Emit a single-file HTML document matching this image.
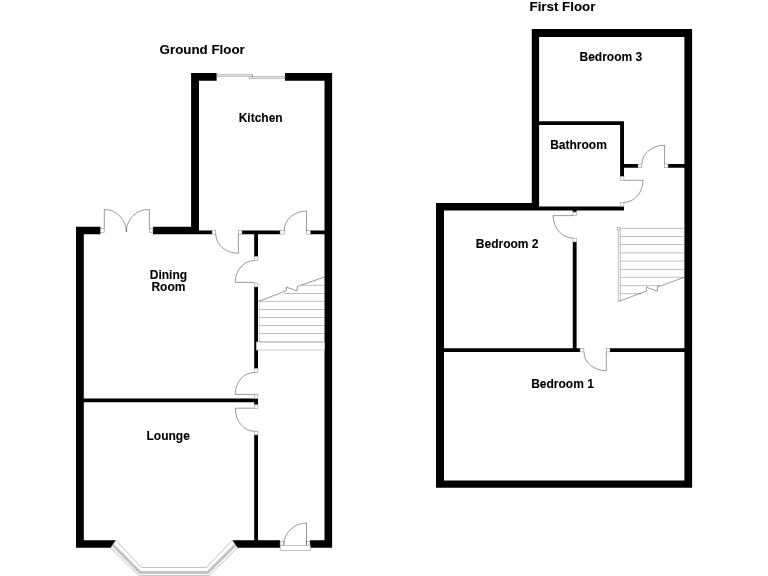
<!DOCTYPE html>
<html lang="en">
<head>
<meta charset="utf-8">
<title>Floor Plan</title>
<style>
html,body{margin:0;padding:0;background:#fff;}
body{width:768px;height:576px;overflow:hidden;}
svg{display:block;will-change:transform;}
text{font-family:"Liberation Sans",Arial,Helvetica,sans-serif;font-weight:bold;fill:#000;stroke:#000;stroke-width:0.1px;}
</style>
</head>
<body>
<svg width="768" height="576" viewBox="0 0 768 576">
<rect x="0" y="0" width="768" height="576" fill="#fff"/>
<path fill="#000" fill-rule="nonzero" d="M191.1,72.9H199V234.2H191.1Z M191.1,72.9H216.6V80.7H191.1Z M285,72.9H332.1V80.7H285Z M324.5,72.9H332.1V547.8H324.5Z M76,226.7H100.5V234.2H76Z M153,226.7H199V234.2H153Z M76,226.7H83.8V547.8H76Z M76,540.3L115.9,540.3L110.9,547.8L76,547.8Z M232.25,540.3L280,540.3L280,547.8L237.25,547.8Z M310,540.3H332.1V547.8H310Z M199,230.5H212V234.2H199Z M242,230.5H280V234.2H242Z M310.25,230.5H324.5V234.2H310.25Z M254.2,234H258V256.6H254.2Z M254.2,287H258V368.5H254.2Z M254.2,398.5H258V404.75H254.2Z M254.2,435H258V540.5H254.2Z M83.8,398.5H258V402.3H83.8Z M531.8,29.1H692.1V37H531.8Z M531.8,29.1H539.1V210.5H531.8Z M684.4,29.1H692.1V487.8H684.4Z M436,203H539.1V210.5H436Z M436,203H444V487.8H436Z M436,480.5H692.1V487.8H436Z M539.1,121.3H624V125H539.1Z M620.1,121.3H624V176.5H620.1Z M624,164H638V167.8H624Z M668,164H684.4V167.8H668Z M539.1,206.6H624V210.5H539.1Z M572.8,210.3H576.6V212H572.8Z M572.8,242H576.6V352H572.8Z M444,348.3H580V352H444Z M610,348.3H684.4V352H610Z"/>
<rect x="217.6" y="74.4" width="35" height="2.3" fill="#e4e4e4" stroke="#a8a8a8" stroke-width="0.6"/>
<rect x="249" y="76.3" width="35.8" height="2.3" fill="#e4e4e4" stroke="#a8a8a8" stroke-width="0.6"/>
<rect x="252.2" y="75.6" width="0.8" height="1.2" fill="#555"/>
<rect x="100.6" y="228.4" width="3.6" height="4" fill="#fff" stroke="#999" stroke-width="0.6"/>
<rect x="149.3" y="228.4" width="3.6" height="4" fill="#fff" stroke="#999" stroke-width="0.6"/>
<path d="M104.3,228.5 L104.3,209.5 A22,22.5 0 0 1 126.3,232 A22,22.5 0 0 1 149.4,209.5 L149.4,228.5" stroke="#000" stroke-width="0.4" fill="none"/>
<rect x="212.1" y="230.5" width="3.6" height="3.7" fill="#fff" stroke="#999" stroke-width="0.6"/>
<rect x="238.4" y="230.5" width="3.5" height="3.7" fill="#fff" stroke="#999" stroke-width="0.6"/>
<path d="M238.4,234.2 L238.4,253.3 A22.6,19.1 0 0 1 215.8,234.2" stroke="#000" stroke-width="0.4" fill="none"/>
<rect x="280.1" y="230.5" width="4.1" height="3.7" fill="#fff" stroke="#999" stroke-width="0.6"/>
<rect x="306.6" y="230.5" width="3.6" height="3.7" fill="#fff" stroke="#999" stroke-width="0.6"/>
<path d="M306.5,230.5 L306.5,211 A22.3,19.5 0 0 0 284.2,230.5" stroke="#000" stroke-width="0.4" fill="none"/>
<rect x="254.3" y="256.7" width="3.6" height="3.8" fill="#fff" stroke="#999" stroke-width="0.6"/>
<rect x="254.3" y="283.1" width="3.6" height="3.8" fill="#fff" stroke="#999" stroke-width="0.6"/>
<path d="M254.2,282.4 L235.2,282.4 A19,21.8 0 0 1 254.2,260.6" stroke="#000" stroke-width="0.4" fill="none"/>
<rect x="254.3" y="368.6" width="3.6" height="3.8" fill="#fff" stroke="#999" stroke-width="0.6"/>
<rect x="254.3" y="394.5" width="3.6" height="3.9" fill="#fff" stroke="#999" stroke-width="0.6"/>
<path d="M254.2,394.4 L235.2,394.4 A19,21.9 0 0 1 254.2,372.5" stroke="#000" stroke-width="0.4" fill="none"/>
<rect x="254.3" y="404.85" width="3.6" height="3.65" fill="#fff" stroke="#999" stroke-width="0.6"/>
<rect x="254.3" y="431.3" width="3.6" height="3.6" fill="#fff" stroke="#999" stroke-width="0.6"/>
<path d="M254.2,408.2 L235.2,408.2 A19,23 0 0 0 254.2,431.2" stroke="#000" stroke-width="0.4" fill="none"/>
<rect x="280.1" y="541.6" width="3.8" height="3.6" fill="#fff" stroke="#999" stroke-width="0.6"/>
<rect x="306.4" y="541.6" width="3.5" height="3.6" fill="#fff" stroke="#999" stroke-width="0.6"/>
<rect x="280.2" y="545.3" width="30.2" height="5.2" fill="#fff" stroke="#999" stroke-width="0.6"/>
<path d="M306.5,545.3 L306.5,523 A22.7,22 0 0 0 283.8,545" stroke="#000" stroke-width="0.4" fill="none"/>
<rect x="256.3" y="342" width="68.2" height="8" fill="#fff" stroke="#bbb" stroke-width="0.7"/>
<path d="M302.5,285.3 L324.5,285.3" stroke="#a4a4a4" stroke-width="0.7" fill="none"/>
<path d="M283.7,293.5 L324.5,293.5" stroke="#a4a4a4" stroke-width="0.7" fill="none"/>
<path d="M258.3,301.3 L324.5,301.3" stroke="#a4a4a4" stroke-width="0.7" fill="none"/>
<path d="M258.3,309.5 L324.5,309.5" stroke="#a4a4a4" stroke-width="0.7" fill="none"/>
<path d="M258.3,317.5 L324.5,317.5" stroke="#a4a4a4" stroke-width="0.7" fill="none"/>
<path d="M258.3,325.5 L324.5,325.5" stroke="#a4a4a4" stroke-width="0.7" fill="none"/>
<path d="M258.3,333.5 L324.5,333.5" stroke="#a4a4a4" stroke-width="0.7" fill="none"/>
<path d="M258.3,341.9 L324.5,341.9" stroke="#a4a4a4" stroke-width="0.7" fill="none"/>
<path d="M259.5,301.3 L259.5,342" stroke="#c8c8c8" stroke-width="0.7" fill="none"/>
<path d="M258.8,301.3 L286.2,290.8 L286.5,287.1 L296.9,290.9 L297.5,286.5 L324.5,276.9" stroke="#000" stroke-width="0.4" fill="none"/>
<polygon points="115.9,540.3 141.5,567.5 206.5,567.5 232.25,540.3 237.25,547.8 209,575.6 139,575.6 110.9,547.8" fill="#fff" stroke="#999" stroke-width="0.6"/>
<path d="M112.9,545.0 L140,572.4 L207.8,572.4 L235.3,545.0" stroke="#c4c4c4" stroke-width="3" fill="none"/>
<rect x="638.1" y="164.1" width="3.7" height="3.6" fill="#fff" stroke="#999" stroke-width="0.6"/>
<rect x="664.6" y="164.1" width="3.4" height="3.6" fill="#fff" stroke="#999" stroke-width="0.6"/>
<path d="M664.6,164 L664.6,145.2 A22.7,18.8 0 0 0 641.9,164" stroke="#000" stroke-width="0.4" fill="none"/>
<rect x="620.2" y="176.6" width="3.7" height="3.9" fill="#fff" stroke="#999" stroke-width="0.6"/>
<rect x="620.2" y="202.5" width="3.7" height="3.7" fill="#fff" stroke="#999" stroke-width="0.6"/>
<path d="M624,180.3 L643,180.3 A19,22.1 0 0 1 624,202.4" stroke="#000" stroke-width="0.4" fill="none"/>
<rect x="572.9" y="212.1" width="3.6" height="3.6" fill="#fff" stroke="#999" stroke-width="0.6"/>
<rect x="572.9" y="238.1" width="3.6" height="3.8" fill="#fff" stroke="#999" stroke-width="0.6"/>
<path d="M572.8,215.6 L553.1,215.6 A19.7,22.4 0 0 0 572.8,238" stroke="#000" stroke-width="0.4" fill="none"/>
<rect x="580.1" y="348.4" width="3.8" height="3.5" fill="#fff" stroke="#999" stroke-width="0.6"/>
<rect x="606.3" y="348.4" width="3.6" height="3.5" fill="#fff" stroke="#999" stroke-width="0.6"/>
<path d="M606.3,352 L606.3,370.8 A22.3,18.8 0 0 1 584,352" stroke="#000" stroke-width="0.4" fill="none"/>
<path d="M620.3,228.4 L684.5,228.4" stroke="#a4a4a4" stroke-width="0.7" fill="none"/>
<path d="M620.3,236.5 L684.5,236.5" stroke="#a4a4a4" stroke-width="0.7" fill="none"/>
<path d="M620.3,244.5 L684.5,244.5" stroke="#a4a4a4" stroke-width="0.7" fill="none"/>
<path d="M620.3,252.9 L684.5,252.9" stroke="#a4a4a4" stroke-width="0.7" fill="none"/>
<path d="M620.3,261.2 L684.5,261.2" stroke="#a4a4a4" stroke-width="0.7" fill="none"/>
<path d="M620.3,269.4 L684.5,269.4" stroke="#a4a4a4" stroke-width="0.7" fill="none"/>
<path d="M620.3,277.3 L684.5,277.3" stroke="#a4a4a4" stroke-width="0.7" fill="none"/>
<path d="M620.3,285.6 L660,285.6" stroke="#a4a4a4" stroke-width="0.7" fill="none"/>
<path d="M620.3,293.6 L641,293.6" stroke="#a4a4a4" stroke-width="0.7" fill="none"/>
<path d="M618.3,229 L618.3,301.5 M620.3,229 L620.3,300.7" stroke="#a4a4a4" stroke-width="0.7" fill="none"/>
<rect x="617.3" y="227.4" width="3.2" height="2.5" fill="#fff" stroke="#999" stroke-width="0.6"/>
<path d="M618.3,301.5 L646.2,291.2 L646.5,287.2 L657.2,291.2 L657.5,286.9 L684.5,277.3" stroke="#000" stroke-width="0.4" fill="none"/>
<text x="159.6" y="54" font-size="13.33">Ground Floor</text>
<text x="529.5" y="11" font-size="13.33">First Floor</text>
<text x="238.7" y="122" font-size="12">Kitchen</text>
<text x="149.75" y="279" font-size="12">Dining</text>
<text x="151.4" y="291" font-size="12">Room</text>
<text x="146.5" y="440" font-size="12">Lounge</text>
<text x="579.5" y="61" font-size="12">Bedroom 3</text>
<text x="550.2" y="149" font-size="12">Bathroom</text>
<text x="475.8" y="248" font-size="12">Bedroom 2</text>
<text x="531.2" y="388" font-size="12">Bedroom 1</text>
</svg>
</body>
</html>
